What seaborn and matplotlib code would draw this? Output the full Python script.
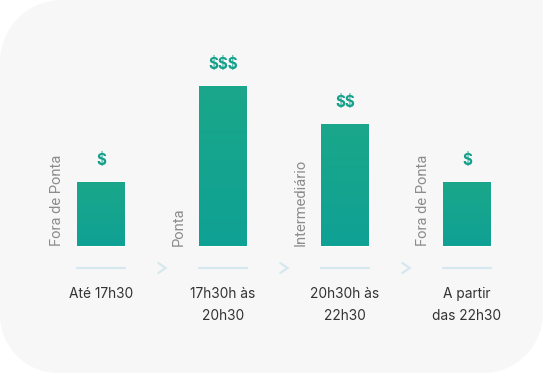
import numpy as np
import pandas as pd
import matplotlib.pyplot as plt
import seaborn as sns
from matplotlib.path import Path
from matplotlib.patches import PathPatch

# data
periods = ["Fora de Ponta", "Ponta", "Intermediário", "Fora de Ponta"]
cost_level = [1.0, 2.5, 1.9, 1.0]
cost_signs = ["$", "$$$", "$$", "$"]
time_labels = ["Até 17h30", "17h30h às\n20h30", "20h30h às\n22h30", "A partir\ndas 22h30"]

W, H = 543, 373
BAR_TOP = "#1aa78a"
BAR_BOTTOM = "#0fa194"
CARD = "#f7f7f7"

sns.set_theme(style="white")
plt.rcParams["font.family"] = ["Inter", "DejaVu Sans"]

fig = plt.figure(figsize=(W / 100, H / 100), dpi=100)
fig.patch.set_facecolor("white")


def card_path(r_tl=62, r_bl=58, r_br=60, n=30):
    """rounded card outline in pixel coords (y up), square top right corner"""
    pts = []
    # bottom left corner
    a = np.linspace(np.pi, 1.5 * np.pi, n)
    pts += list(zip(r_bl + r_bl * np.cos(a), r_bl + r_bl * np.sin(a)))
    # bottom right corner
    a = np.linspace(1.5 * np.pi, 2 * np.pi, n)
    pts += list(zip(W - r_br + r_br * np.cos(a), r_br + r_br * np.sin(a)))
    pts.append((W, H))
    # top left corner
    a = np.linspace(0.5 * np.pi, np.pi, n)
    pts += list(zip(r_tl + r_tl * np.cos(a), H - r_tl + r_tl * np.sin(a)))
    pts = np.array(pts)
    pts[:, 0] /= W
    pts[:, 1] /= H
    return Path(np.vstack([pts, pts[:1]]), closed=True)


fig.patches.append(PathPatch(card_path(), transform=fig.transFigure,
                             facecolor=CARD, edgecolor="none", zorder=-5))

ax = fig.add_axes([0, 0, 1, 1])
ax.set_facecolor("none")
ax.set_zorder(2)

# pixel geometry -> data limits
step_px, first_px, unit_px, base_px = 122, 101, 64, H - 246
bar_w = 48 / step_px

df = pd.DataFrame({"period": [f"{i}" for i in range(len(periods))], "level": cost_level})
sns.barplot(data=df, x="period", y="level", width=bar_w, color=BAR_TOP,
            saturation=1, ax=ax, zorder=2)

ax.axis("off")

# vertical gradient on bars
grad = np.linspace(0, 1, 100).reshape(-1, 1)
cmap = sns.blend_palette([BAR_BOTTOM, BAR_TOP], as_cmap=True)
for bar in ax.patches:
    x0, y0 = bar.get_x(), bar.get_y()
    im = ax.imshow(grad, cmap=cmap, origin="lower", aspect="auto",
                   extent=[x0, x0 + bar.get_width(), y0, y0 + bar.get_height()], zorder=2)
    im.set_clip_path(bar)
ax.set_xlim(-first_px / step_px, (W - first_px) / step_px)
ax.set_ylim(-base_px / unit_px, (H - base_px) / unit_px)

for i, (name, val, sign, tlabel) in enumerate(zip(periods, cost_level, cost_signs, time_labels)):
    # cost signs above bars
    ax.annotate(sign, (i, val), xytext=(0, 22), textcoords="offset pixels",
                ha="center", va="center", fontsize=11, fontweight="bold",
                color="#14a08a", parse_math=False)
    # rotated period name left of bar
    ax.annotate(name, (i, 0), xytext=(-44, 0), textcoords="offset pixels",
                ha="center", va="bottom", rotation=90, fontsize=10.6,
                color="#8c8c8c", family=["Roboto", "DejaVu Sans"])
    # underline
    ax.plot([i - bar_w / 2, i + bar_w / 2], [-22 / unit_px] * 2, color="#d5e8f0", lw=1.6)
    # time range label
    ax.annotate(tlabel, (i, 0), xytext=(0, -41), textcoords="offset pixels",
                ha="center", va="top", fontsize=9.9, color="#333333", linespacing=1.75)
    # chevron between steps
    if i < len(periods) - 1:
        ax.plot([i + 0.47, i + 0.53, i + 0.47],
                np.array([-17, -22, -27]) / unit_px, color="#d5e8f0", lw=1.6,
                solid_capstyle="round", solid_joinstyle="miter")

fig.savefig("out.png", dpi=100, facecolor="white")
